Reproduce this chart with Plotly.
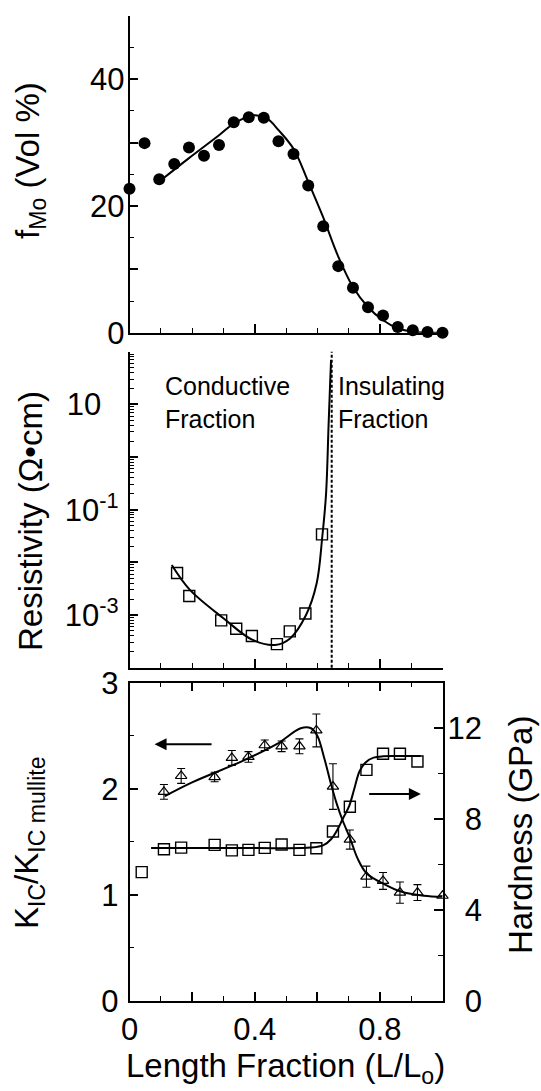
import plotly.graph_objects as go

# ---------------- data ----------------
# Top panel: Mo volume fraction
fmo_x = [0.0, 0.048, 0.095, 0.143, 0.19, 0.238, 0.286, 0.333, 0.381, 0.429, 0.476,
         0.524, 0.571, 0.619, 0.667, 0.714, 0.762, 0.81, 0.857, 0.905, 0.952, 1.0]
fmo_y = [22.7, 29.9, 24.2, 26.6, 29.2, 27.9, 29.6, 33.2, 34.0, 33.9, 30.2,
         28.2, 23.2, 16.8, 10.5, 7.1, 4.0, 2.7, 0.9, 0.4, 0.1, 0.0]
fmo_fit_x = [0.094, 0.189, 0.285, 0.334, 0.395, 0.439, 0.477, 0.524, 0.571,
             0.618, 0.667, 0.714, 0.761, 0.809, 0.857, 0.904, 1.0]
fmo_fit_y = [23.8, 27.5, 31.1, 33.0, 34.3, 33.8, 31.9, 29.0, 23.8,
             18.3, 12.0, 7.2, 4.1, 2.0, 0.7, 0.15, 0.0]

# Middle panel: resistivity (ohm cm)
res_x = [0.152, 0.191, 0.293, 0.341, 0.391, 0.471, 0.512, 0.562, 0.615]
res_y = [6.3e-3, 2.3e-3, 7.9e-4, 5.5e-4, 4.0e-4, 2.8e-4, 4.9e-4, 1.07e-3, 3.4e-2]
res_fit_x = [0.135, 0.193, 0.30, 0.392, 0.465, 0.513, 0.564, 0.598, 0.616,
             0.628, 0.636, 0.641, 0.644]
res_fit_y = [8.9e-3, 3.0e-3, 8.7e-4, 3.4e-4, 2.7e-4, 3.6e-4, 1.0e-3, 4.0e-3,
             3.1e-2, 0.2, 4.0, 25.0, 70.0]
boundary_x = 0.646

# Bottom panel: toughness ratio (left axis) and hardness (right axis)
kic_x = [0.11, 0.165, 0.272, 0.327, 0.38, 0.432, 0.486, 0.543, 0.597, 0.65,
         0.704, 0.757, 0.81, 0.864, 0.92, 1.0]
kic_y = [1.97, 2.12, 2.11, 2.29, 2.30, 2.41, 2.40, 2.40, 2.55, 2.02,
         1.52, 1.17, 1.13, 1.02, 1.02, 0.99]
kic_err = [0.07, 0.07, 0.045, 0.07, 0.05, 0.05, 0.05, 0.07, 0.155, 0.215,
           0.09, 0.10, 0.08, 0.10, 0.075, 0.0]
kic_fit_x = [0.113, 0.2, 0.36, 0.47, 0.547, 0.58, 0.60, 0.623, 0.645, 0.664,
             0.681, 0.705, 0.729, 0.758, 0.814, 0.867, 0.94, 1.0]
kic_fit_y = [1.93, 2.06, 2.26, 2.42, 2.57, 2.57, 2.50, 2.28, 2.03, 1.84,
             1.70, 1.53, 1.34, 1.20, 1.10, 1.03, 0.99, 0.98]

hard_x = [0.039, 0.11, 0.165, 0.272, 0.327, 0.38, 0.432, 0.486, 0.543, 0.597,
          0.65, 0.704, 0.757, 0.81, 0.864, 0.92]
hard_y = [5.66, 6.67, 6.74, 6.86, 6.62, 6.64, 6.73, 6.88, 6.64, 6.71,
          7.45, 8.54, 10.16, 10.87, 10.87, 10.53]
hard_fit_x = [0.069, 0.2, 0.4, 0.58, 0.62, 0.644, 0.665, 0.681, 0.702, 0.718,
              0.735, 0.755, 0.78, 0.81, 0.86, 0.93]
hard_fit_y = [6.72, 6.72, 6.72, 6.74, 6.85, 7.11, 7.55, 8.0, 8.58, 9.32,
              10.1, 10.5, 10.7, 10.76, 10.77, 10.77]

x_tickvals = [0, 0.2, 0.4, 0.6, 0.8, 1.0]
x_ticktext = ["0", "", "0.4", "", "0.8", ""]
fmo_tickvals = [0, 10, 20, 30, 40, 50]
fmo_ticktext = ["0", "", "20", "", "40", ""]
res_tickvals = [1e-4, 1e-3, 1e-2, 1e-1, 1, 10, 100]
res_ticktext = ["", "10<sup>-3</sup>", "", "10<sup>-1</sup>", "", "10\u00a0\u00a0", ""]
res_minor = [m * 10.0 ** k for k in range(-4, 2) for m in range(2, 10)]
kic_tickvals = [0, 1, 2, 3]
kic_ticktext = ["0", "1", "2", "3"]
hard_tickvals = [0, 4, 8, 12]
hard_ticktext = ["\u00a0\u00a00", "\u00a0\u00a04", "\u00a0\u00a08", "12"]

# ---------------- figure ----------------
W, H = 541, 1091
FONT = "Liberation Sans, Arial, sans-serif"
BLK = "black"

fig = go.Figure()

# top
fig.add_trace(go.Scatter(x=fmo_fit_x, y=fmo_fit_y, mode="lines", line=dict(color=BLK, width=2, shape="spline"),
                         xaxis="x", yaxis="y", hoverinfo="skip"))
fig.add_trace(go.Scatter(x=fmo_x, y=fmo_y, mode="markers", marker=dict(symbol="circle", size=12, color=BLK),
                         xaxis="x", yaxis="y", cliponaxis=False))
# middle
fig.add_trace(go.Scatter(x=res_fit_x, y=res_fit_y, mode="lines", line=dict(color=BLK, width=2, shape="spline"),
                         xaxis="x2", yaxis="y2", hoverinfo="skip"))
fig.add_trace(go.Scatter(x=res_x, y=res_y, mode="markers",
                         marker=dict(symbol="square-open", size=11, color=BLK, line=dict(width=1.4, color=BLK)),
                         xaxis="x2", yaxis="y2", cliponaxis=False))
# bottom
fig.add_trace(go.Scatter(x=kic_fit_x, y=kic_fit_y, mode="lines", line=dict(color=BLK, width=2, shape="spline"),
                         xaxis="x3", yaxis="y3", hoverinfo="skip"))
fig.add_trace(go.Scatter(x=kic_x, y=kic_y, mode="markers",
                         marker=dict(symbol="triangle-up-open", size=10, color=BLK, line=dict(width=1.2, color=BLK)),
                         error_y=dict(type="data", array=kic_err, visible=True, color=BLK, thickness=1.1, width=4),
                         xaxis="x3", yaxis="y3", cliponaxis=False))
fig.add_trace(go.Scatter(x=hard_fit_x, y=hard_fit_y, mode="lines", line=dict(color=BLK, width=2, shape="spline"),
                         xaxis="x3", yaxis="y4", hoverinfo="skip"))
fig.add_trace(go.Scatter(x=hard_x, y=hard_y, mode="markers",
                         marker=dict(symbol="square-open", size=11, color=BLK, line=dict(width=1.4, color=BLK)),
                         xaxis="x3", yaxis="y4", cliponaxis=False))

xdom = [129.5 / W, 442.5 / W]


def ydom(top_px, bot_px):
    return [1 - bot_px / H, 1 - top_px / H]


tickfont = dict(family=FONT, size=31, color=BLK)
common_x = dict(range=[0, 1], domain=xdom, showline=True, linecolor=BLK, linewidth=1.5,
                ticks="inside", ticklen=9, tickwidth=1.5, tickcolor=BLK,
                tickmode="array", tickvals=x_tickvals, ticktext=x_ticktext,
                minor=dict(tickmode="linear", tick0=0, dtick=0.1, ticks="inside", ticklen=5, tickwidth=1.2, tickcolor=BLK),
                showgrid=False, zeroline=False, automargin=False, tickfont=tickfont)

fig.update_layout(
    width=W, height=H, margin=dict(l=0, r=0, t=0, b=0),
    paper_bgcolor="white", plot_bgcolor="white", showlegend=False,
    font=dict(family=FONT, color=BLK),
    xaxis=dict(common_x, anchor="y", showticklabels=False),
    yaxis=dict(domain=ydom(15.7, 332.7), range=[0, 50], anchor="x", showline=True, linecolor=BLK, linewidth=1.5,
               ticks="inside", ticklen=9, tickwidth=1.5, tickcolor=BLK,
               tickmode="array", tickvals=fmo_tickvals, ticktext=fmo_ticktext,
               minor=dict(tickmode="linear", tick0=0, dtick=5, ticks="inside", ticklen=5, tickwidth=1.2, tickcolor=BLK),
               showgrid=False, zeroline=False, automargin=False, tickfont=tickfont, ticklabelstandoff=-3),
    xaxis2=dict(common_x, anchor="y2", showticklabels=False),
    yaxis2=dict(domain=ydom(351.7, 667.7), type="log", range=[-4, 2], anchor="x2", showline=True,
                linecolor=BLK, linewidth=1.5,
                ticks="inside", ticklen=9, tickwidth=1.5, tickcolor=BLK,
                tickmode="array", tickvals=res_tickvals, ticktext=res_ticktext,
                minor=dict(tickmode="array", tickvals=res_minor, ticks="inside", ticklen=5, tickwidth=1, tickcolor=BLK),
                showgrid=False, zeroline=False, automargin=False, tickfont=tickfont, ticklabelstandoff=3),
    xaxis3=dict(common_x, anchor="y3", showticklabels=True, mirror="ticks", ticklabelstandoff=0),
    yaxis3=dict(domain=ydom(682.7, 1000.7), range=[0, 3], anchor="x3", showline=True, linecolor=BLK, linewidth=1.5,
                ticks="inside", ticklen=9, tickwidth=1.5, tickcolor=BLK,
                tickmode="array", tickvals=kic_tickvals, ticktext=kic_ticktext,
                minor=dict(tickmode="linear", tick0=0, dtick=0.5, ticks="inside", ticklen=5, tickwidth=1.2, tickcolor=BLK),
                showgrid=False, zeroline=False, automargin=False, tickfont=tickfont, ticklabelstandoff=3),
    yaxis4=dict(domain=ydom(682.7, 1000.7), range=[0, 14], anchor="x3", overlaying="y3", side="right",
                showline=True, linecolor=BLK, linewidth=1.5,
                ticks="inside", ticklen=9, tickwidth=1.5, tickcolor=BLK,
                tickmode="array", tickvals=hard_tickvals, ticktext=hard_ticktext,
                minor=dict(tickmode="linear", tick0=0, dtick=2, ticks="inside", ticklen=5, tickwidth=1.2, tickcolor=BLK),
                showgrid=False, zeroline=False, automargin=False, tickfont=tickfont, ticklabelstandoff=-3),
)

# boundary line between conductive and insulating fractions
fig.add_shape(type="line", xref="x2", yref="y2 domain", x0=boundary_x, x1=boundary_x, y0=0, y1=1,
              line=dict(color=BLK, width=2, dash="3px,2px"))

title_font = dict(family=FONT, size=33, color=BLK)
ann = [
    dict(text="f<sub>Mo</sub> (Vol %)", x=30 / W, y=1 - 161 / H, textangle=-90),
    dict(text="Resistivity (Ω•cm)", x=30 / W, y=1 - 521 / H, textangle=-90),
    dict(text="K<sub>IC</sub>/K<sub>IC mullite</sub>", x=29 / W, y=1 - 843 / H, textangle=-90),
    dict(text="Hardness (GPa)", x=520 / W, y=1 - 835 / H, textangle=-90),
    dict(text="Length Fraction (L/L<sub>o</sub>)", x=285 / W, y=1 - 1068 / H, textangle=0),
]
for a in ann:
    fig.add_annotation(xref="paper", yref="paper", xanchor="center", yanchor="middle",
                       showarrow=False, font=title_font, **a)

region_font = dict(family=FONT, size=25, color=BLK)
fig.add_annotation(xref="x2", yref="y2", x=0.108, y=1.03, text="Conductive<br>Fraction", showarrow=False,
                   xanchor="left", yanchor="middle", align="left", font=region_font)
fig.add_annotation(xref="x2", yref="y2", x=0.66, y=1.03, text="Insulating<br>Fraction", showarrow=False,
                   xanchor="left", yanchor="middle", align="left", font=region_font)

# arrows pointing to the relevant axes
fig.add_annotation(xref="x3", yref="y3", axref="x3", ayref="y3", x=0.08, y=2.42, ax=0.267, ay=2.42,
                   text="", showarrow=True, arrowhead=2, arrowsize=1.2, arrowwidth=2, arrowcolor=BLK)
fig.add_annotation(xref="x3", yref="y3", axref="x3", ayref="y3", x=0.931, y=1.95, ax=0.761, ay=1.95,
                   text="", showarrow=True, arrowhead=2, arrowsize=1.2, arrowwidth=2, arrowcolor=BLK)

fig.write_html("out.html", config={"displayModeBar": False},
               post_script="document.body.style.margin='0px';document.body.style.overflow='hidden';")
